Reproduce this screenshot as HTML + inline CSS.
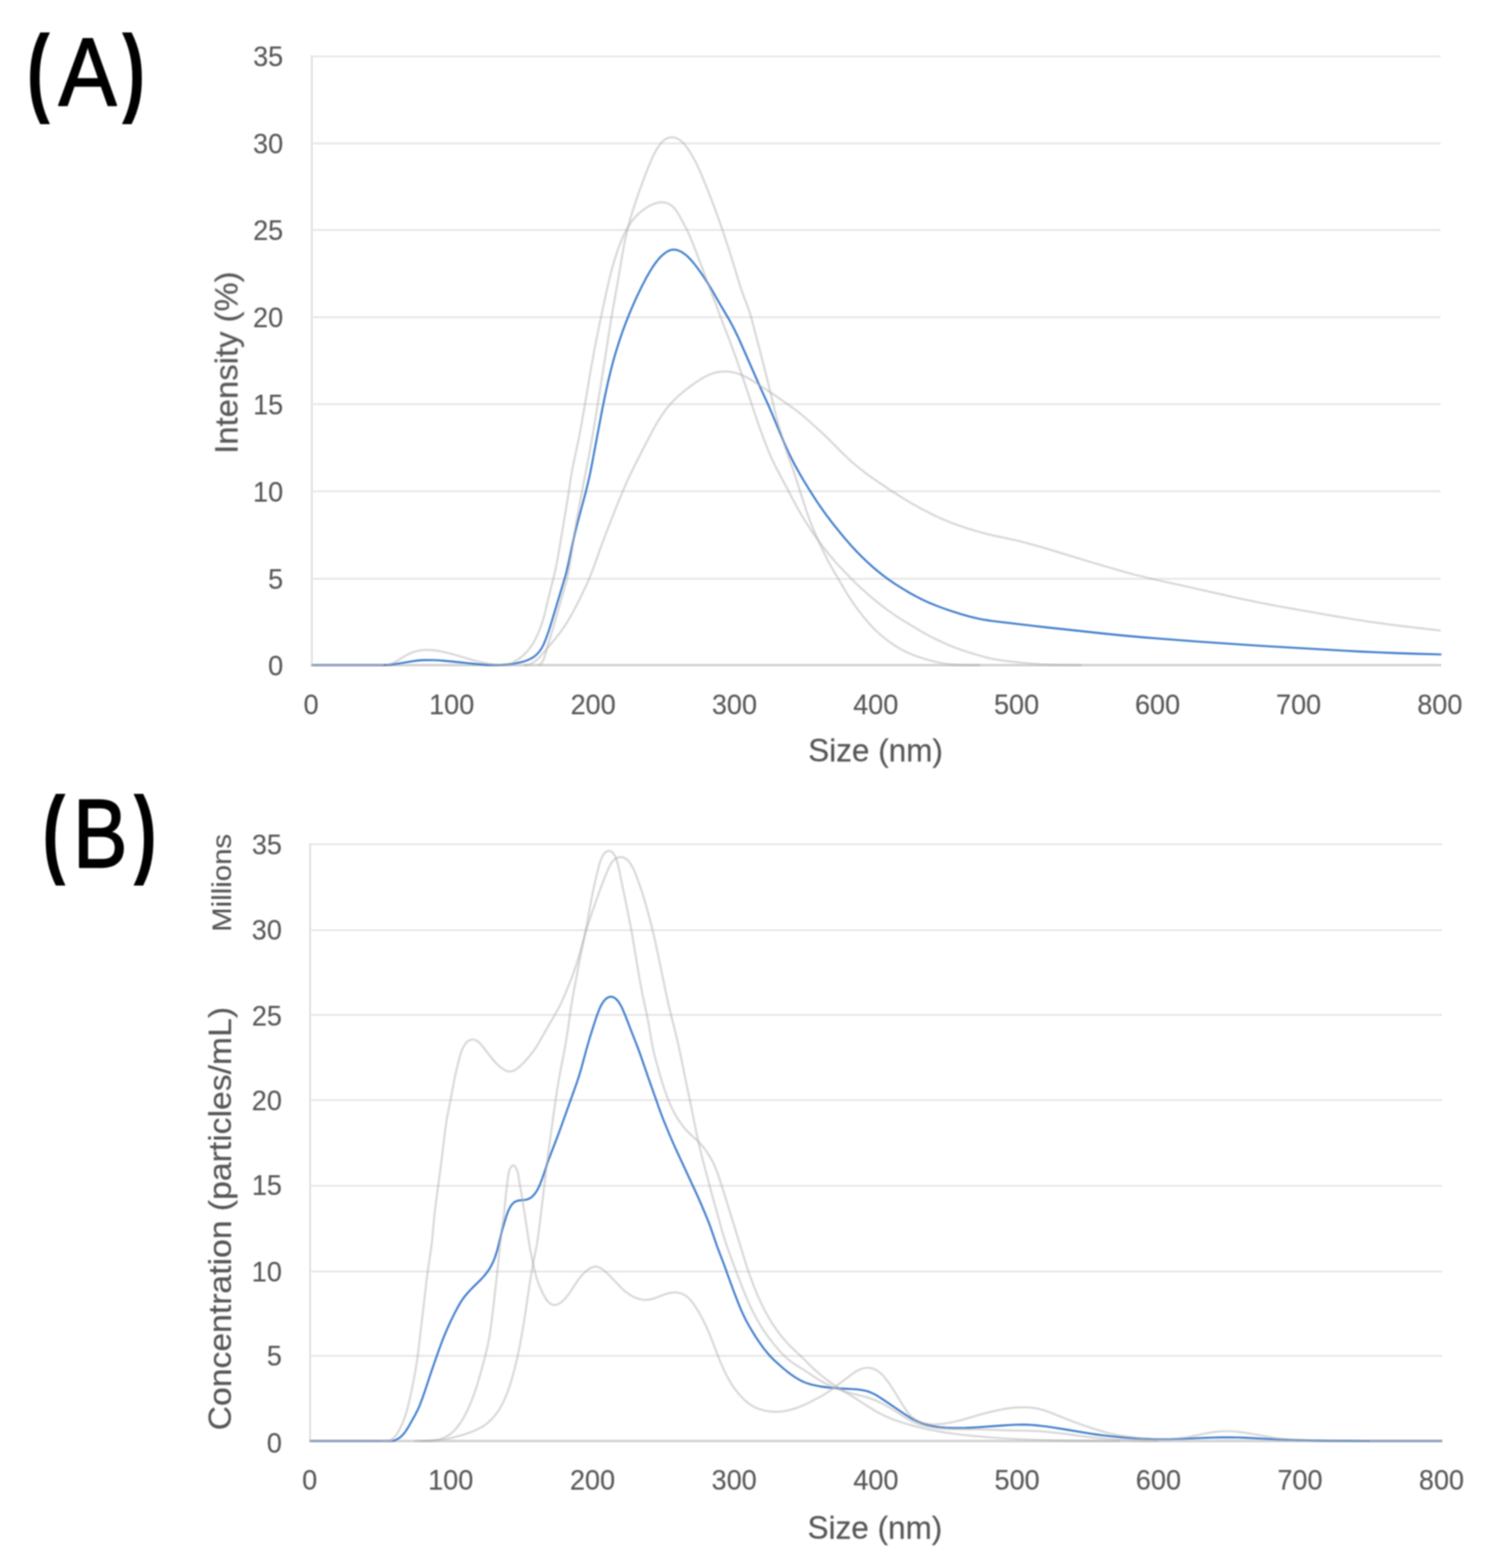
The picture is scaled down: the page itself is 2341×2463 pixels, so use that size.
<!DOCTYPE html>
<html lang="en"><head><meta charset="utf-8"><title>Particle size distributions</title>
<style>html,body{margin:0;padding:0;background:#fff;}body{width:2341px;height:2463px;overflow:hidden;}svg{display:block;}text{font-family:"Liberation Sans",Arial,sans-serif;}</style></head><body>
<svg xmlns="http://www.w3.org/2000/svg" width="2341" height="2463" viewBox="0 0 2341 2463">
<rect width="2341" height="2463" fill="#fff"/>
<g id="grid">
<g stroke="#eeeeee" stroke-width="3.9" fill="none">
<line x1="490.0" y1="909.30" x2="2263.4" y2="909.30"/>
<line x1="490.0" y1="771.80" x2="2263.4" y2="771.80"/>
<line x1="490.0" y1="634.70" x2="2263.4" y2="634.70"/>
<line x1="490.0" y1="498.30" x2="2263.4" y2="498.30"/>
<line x1="490.0" y1="361.30" x2="2263.4" y2="361.30"/>
<line x1="490.0" y1="225.20" x2="2263.4" y2="225.20"/>
<line x1="490.0" y1="88.60" x2="2263.4" y2="88.60"/>
</g>
<line x1="490.0" y1="86.65" x2="490.0" y2="1046.30" stroke="#e8e8ea" stroke-width="3.8"/>
<line x1="488.1" y1="1044.80" x2="2264.2" y2="1044.80" stroke="#dadada" stroke-width="4.4"/>
<g stroke="#eeeeee" stroke-width="3.9" fill="none">
<line x1="487.2" y1="2129.80" x2="2265.5" y2="2129.80"/>
<line x1="487.2" y1="1997.30" x2="2265.5" y2="1997.30"/>
<line x1="487.2" y1="1862.60" x2="2265.5" y2="1862.60"/>
<line x1="487.2" y1="1728.00" x2="2265.5" y2="1728.00"/>
<line x1="487.2" y1="1594.30" x2="2265.5" y2="1594.30"/>
<line x1="487.2" y1="1461.10" x2="2265.5" y2="1461.10"/>
<line x1="487.2" y1="1326.20" x2="2265.5" y2="1326.20"/>
</g>
<line x1="487.2" y1="1324.25" x2="487.2" y2="2265.00" stroke="#e8e8ea" stroke-width="3.8"/>
<line x1="485.3" y1="2263.50" x2="2266.3" y2="2263.50" stroke="#dadada" stroke-width="4.4"/>
</g>
<g id="figure" filter="url(#soft)">
<g id="chartA">
<path d="M490.0,1044.8 L604.0,1044.8" fill="none" stroke="#8fa3c4" stroke-width="3.6"/>
<path d="M604.5,1044.7 L612.0,1044.2 L619.4,1043.3 L626.8,1042.2 L644.6,1039.2 L653.5,1037.9 L658.0,1037.4 L662.4,1037.1 L666.9,1036.9 L672.9,1036.8 L683.4,1037.0 L689.4,1037.3 L696.9,1037.9 L710.3,1039.1 L746.1,1042.9 L756.6,1043.8 L765.6,1044.4 L773.1,1044.7 L780.6,1044.8 L788.1,1044.5 L795.5,1043.9 L806.0,1042.7 L810.5,1042.0 L814.9,1041.1 L819.3,1040.1 L822.2,1039.3 L826.5,1037.9 L829.3,1036.8 L833.3,1034.9 L836.0,1033.5 L838.5,1031.9 L840.8,1030.1 L843.1,1028.1 L845.1,1026.0 L847.1,1023.8 L848.8,1021.4 L850.5,1018.9 L852.0,1016.3 L853.4,1013.6 L855.3,1009.5 L858.6,1001.1 L862.1,991.2 L864.9,982.6 L868.8,969.7 L886.9,909.4 L888.6,903.6 L890.1,897.8 L892.8,886.2 L898.9,856.8 L903.3,837.8 L908.4,817.4 L916.9,785.6 L920.4,772.5 L923.6,759.4 L926.3,747.7 L928.4,737.4 L930.4,727.1 L940.9,671.1 L946.2,643.1 L951.0,619.6 L955.5,599.1 L959.7,581.6 L963.9,565.6 L968.1,551.2 L973.1,535.5 L977.9,521.3 L983.7,505.8 L989.2,491.9 L995.1,478.1 L1001.3,464.4 L1008.5,449.6 L1014.7,437.6 L1020.6,427.2 L1025.4,419.5 L1028.0,415.7 L1030.7,412.0 L1033.5,408.4 L1035.5,406.1 L1037.6,403.8 L1039.8,401.6 L1042.1,399.6 L1044.5,397.7 L1046.9,396.0 L1049.5,394.5 L1052.2,393.3 L1053.5,392.8 L1056.3,392.2 L1057.7,392.1 L1060.5,392.2 L1061.9,392.4 L1064.8,393.1 L1066.2,393.6 L1068.9,394.8 L1070.2,395.4 L1072.8,397.0 L1076.5,399.7 L1078.9,401.6 L1081.2,403.7 L1085.4,408.1 L1090.4,413.9 L1095.9,421.1 L1101.2,428.4 L1106.3,435.8 L1111.9,444.6 L1118.2,454.9 L1132.3,479.6 L1145.3,501.6 L1149.6,509.4 L1154.4,518.8 L1159.0,528.2 L1164.6,540.5 L1194.2,607.8 L1208.4,639.2 L1214.9,654.3 L1225.8,680.7 L1230.4,691.7 L1235.9,704.1 L1241.7,716.3 L1246.4,725.7 L1251.3,734.9 L1256.4,744.1 L1262.5,754.5 L1269.5,766.0 L1277.5,778.7 L1284.9,790.0 L1291.7,799.9 L1299.6,810.8 L1308.7,822.7 L1320.0,836.8 L1329.6,848.3 L1337.5,857.3 L1345.7,866.1 L1354.1,874.6 L1362.7,882.9 L1371.7,891.0 L1379.7,897.8 L1387.9,904.3 L1396.4,910.4 L1406.3,917.2 L1419.0,925.2 L1429.3,931.4 L1439.8,937.2 L1449.2,941.9 L1458.7,946.3 L1469.8,950.9 L1481.0,955.1 L1495.2,960.0 L1509.5,964.5 L1522.5,968.2 L1532.7,970.8 L1538.6,972.1 L1544.4,973.2 L1551.8,974.4 L1559.3,975.5 L1624.8,983.2 L1645.7,985.6 L1733.6,995.1 L1753.0,997.1 L1773.9,999.1 L1796.3,1001.1 L1823.2,1003.2 L1881.6,1007.7 L1914.5,1010.0 L1969.8,1013.7 L2002.8,1015.8 L2115.1,1022.2 L2140.5,1023.6 L2166.0,1024.8 L2192.9,1025.9 L2222.9,1026.9 L2263.4,1028.0" fill="none" stroke="#3c7acb" stroke-width="3.1" stroke-linejoin="round" stroke-linecap="round"/>
<path d="M845.6,1044.6 L846.8,1044.2 L848.1,1043.7 L849.2,1043.0 L850.1,1042.2 L851.0,1041.2 L851.8,1040.1 L853.2,1037.7 L854.4,1035.0 L855.4,1032.1 L856.8,1027.6 L861.0,1012.7 L866.3,995.4 L868.9,986.8 L877.4,956.5 L887.0,923.3 L889.0,916.1 L890.9,908.8 L892.3,903.0 L893.5,897.2 L895.2,888.3 L896.7,879.5 L898.2,869.1 L902.1,840.8 L903.5,831.9 L905.2,821.6 L907.9,806.8 L918.5,750.8 L926.2,711.0 L928.9,696.3 L931.7,680.0 L935.4,657.8 L946.1,591.2 L950.4,564.5 L957.7,517.1 L962.1,490.5 L971.3,438.8 L977.2,403.2 L979.6,389.9 L981.2,381.1 L983.1,372.3 L984.7,365.0 L986.5,357.7 L990.0,344.7 L993.9,331.7 L999.0,316.0 L1004.9,299.0 L1011.0,282.1 L1016.9,266.7 L1022.7,252.8 L1025.2,247.2 L1027.1,243.1 L1030.7,236.4 L1033.0,232.4 L1034.7,229.9 L1036.5,227.4 L1038.4,225.0 L1040.4,222.8 L1041.5,221.7 L1043.7,219.8 L1044.9,219.0 L1047.5,217.5 L1048.8,216.9 L1051.6,216.1 L1053.1,215.8 L1054.5,215.6 L1056.0,215.6 L1057.4,215.7 L1058.9,215.9 L1060.3,216.2 L1063.1,217.2 L1064.5,217.8 L1067.1,219.3 L1068.4,220.2 L1070.8,222.0 L1074.0,225.2 L1076.0,227.5 L1077.9,229.8 L1081.5,234.8 L1085.6,241.1 L1089.3,247.7 L1092.9,254.3 L1096.1,261.1 L1099.9,269.3 L1104.5,280.3 L1111.9,298.4 L1116.8,311.0 L1121.6,323.6 L1126.3,336.3 L1131.3,350.4 L1136.7,366.0 L1141.4,380.2 L1148.3,401.6 L1160.6,441.8 L1165.2,456.1 L1169.2,467.4 L1175.7,484.2 L1177.1,488.4 L1178.9,494.1 L1181.0,501.3 L1185.8,520.2 L1192.8,546.3 L1198.8,569.6 L1206.5,600.1 L1216.3,640.9 L1220.3,656.9 L1223.1,667.1 L1226.9,680.0 L1231.6,695.8 L1235.2,707.3 L1238.6,717.2 L1245.7,737.0 L1249.1,746.9 L1253.3,759.7 L1261.9,786.9 L1266.6,801.2 L1270.6,812.5 L1274.8,823.7 L1278.2,832.0 L1282.3,841.7 L1286.6,851.3 L1292.3,863.5 L1296.2,871.6 L1300.2,879.7 L1304.5,887.6 L1308.2,894.1 L1318.1,910.9 L1328.7,929.0 L1331.8,934.2 L1335.0,939.2 L1340.1,946.7 L1346.2,955.2 L1352.5,963.6 L1358.1,970.7 L1363.9,977.6 L1368.9,983.1 L1375.2,989.6 L1380.7,994.7 L1386.4,999.6 L1392.2,1004.3 L1398.2,1008.8 L1405.7,1013.9 L1413.4,1018.6 L1419.9,1022.2 L1426.7,1025.4 L1433.6,1028.4 L1442.0,1031.5 L1452.0,1034.8 L1460.7,1037.3 L1469.4,1039.5 L1476.7,1041.1 L1484.1,1042.4 L1491.5,1043.4 L1499.0,1044.0 L1506.5,1044.5 L1515.5,1044.7 L1539.5,1044.8" fill="none" stroke="#b0b0b0" stroke-opacity="0.5" stroke-width="3.2" stroke-linejoin="round"/>
<path d="M606.5,1044.5 L609.4,1044.0 L612.2,1043.3 L615.0,1042.4 L619.1,1040.6 L621.7,1039.3 L624.3,1037.8 L633.4,1032.2 L638.6,1029.2 L644.0,1026.5 L648.2,1024.8 L651.0,1023.8 L653.9,1023.0 L656.8,1022.3 L659.7,1021.7 L662.7,1021.3 L665.6,1021.0 L668.6,1020.8 L671.6,1020.8 L677.6,1021.1 L680.6,1021.3 L685.1,1021.9 L692.5,1023.2 L699.8,1024.8 L707.1,1026.6 L714.4,1028.5 L737.4,1035.3 L746.1,1037.7 L756.3,1040.2 L765.1,1042.1 L774.0,1043.6 L778.4,1044.1 L783.0,1044.5 L786.0,1044.7 L789.0,1044.7 L792.0,1044.6 L794.9,1044.2 L797.8,1043.6 L800.6,1042.8 L803.4,1041.7 L806.1,1040.5 L808.8,1039.1 L812.7,1036.7 L815.2,1035.0 L818.7,1032.2 L821.0,1030.3 L824.4,1027.2 L827.5,1024.0 L829.5,1021.8 L831.4,1019.4 L834.1,1015.8 L835.8,1013.4 L838.2,1009.6 L840.3,1005.6 L842.4,1001.6 L846.1,993.4 L847.8,989.2 L849.9,983.6 L851.9,977.9 L853.2,973.6 L854.9,967.9 L856.4,962.1 L862.5,935.8 L869.6,908.2 L871.3,900.9 L872.9,893.6 L874.7,884.8 L876.4,875.9 L880.2,853.8 L891.8,784.2 L893.7,772.4 L896.7,751.6 L898.4,741.3 L900.4,731.0 L907.3,698.7 L910.0,685.5 L912.8,670.7 L918.0,641.2 L928.5,579.1 L933.3,552.5 L936.7,534.9 L940.9,514.3 L947.7,482.0 L952.4,460.0 L955.7,445.4 L958.5,433.7 L961.1,423.6 L964.0,413.5 L967.5,402.0 L970.8,392.0 L974.5,382.2 L976.8,376.6 L978.6,372.5 L982.5,364.4 L986.1,357.8 L990.0,351.4 L992.6,347.7 L994.4,345.3 L997.3,341.9 L999.3,339.6 L1001.4,337.5 L1004.7,334.4 L1007.0,332.5 L1010.6,329.7 L1014.3,327.0 L1016.9,325.4 L1020.9,323.1 L1023.6,321.8 L1026.4,320.6 L1029.2,319.6 L1032.1,318.7 L1035.1,318.1 L1038.0,317.8 L1039.5,317.7 L1042.4,317.9 L1045.4,318.4 L1048.2,319.2 L1051.0,320.4 L1053.5,321.9 L1055.9,323.6 L1058.1,325.6 L1060.1,327.9 L1061.9,330.2 L1064.5,334.0 L1066.9,337.9 L1069.1,341.8 L1079.0,360.6 L1081.6,366.0 L1084.0,371.4 L1089.1,383.9 L1098.3,407.7 L1111.9,444.2 L1124.2,476.5 L1133.0,500.4 L1145.4,532.5 L1152.7,552.2 L1159.3,570.6 L1165.2,587.6 L1170.9,604.6 L1189.4,660.1 L1192.8,670.1 L1196.9,681.3 L1202.2,695.4 L1207.2,707.9 L1211.9,718.9 L1216.4,728.4 L1221.1,737.8 L1228.0,751.1 L1249.1,790.8 L1253.4,798.7 L1257.9,806.6 L1262.4,814.3 L1266.4,820.7 L1272.1,829.5 L1278.0,838.2 L1284.9,847.9 L1292.1,857.6 L1298.5,865.9 L1304.2,872.9 L1310.0,879.7 L1316.0,886.5 L1326.2,897.4 L1336.7,908.2 L1346.3,917.6 L1356.2,926.8 L1366.3,935.7 L1376.6,944.4 L1387.2,952.8 L1396.8,960.0 L1406.7,966.8 L1415.5,972.5 L1442.5,988.8 L1452.8,994.9 L1462.1,999.8 L1471.5,1004.5 L1483.7,1010.2 L1494.7,1015.0 L1503.1,1018.3 L1513.0,1021.8 L1525.8,1025.9 L1537.3,1029.3 L1547.4,1032.1 L1556.2,1034.2 L1565.0,1035.9 L1573.9,1037.4 L1587.3,1039.1 L1603.7,1040.9 L1621.6,1042.6 L1635.0,1043.6 L1647.0,1044.1 L1662.0,1044.5 L1678.5,1044.7 L1699.5,1044.8" fill="none" stroke="#b0b0b0" stroke-opacity="0.5" stroke-width="3.2" stroke-linejoin="round"/>
<path d="M822.6,1044.8 L825.6,1044.7 L828.5,1044.3 L830.0,1044.0 L832.8,1043.2 L835.4,1042.1 L838.0,1040.6 L841.6,1038.0 L845.0,1035.1 L848.2,1031.8 L852.2,1027.3 L868.8,1007.8 L874.5,1000.8 L879.9,993.7 L885.2,986.4 L889.3,980.1 L894.0,972.4 L899.2,963.3 L905.5,951.4 L912.9,936.6 L921.3,919.0 L924.4,912.2 L926.7,906.7 L929.5,899.7 L932.2,892.7 L945.2,856.0 L952.7,836.3 L966.9,800.0 L973.0,784.7 L980.0,768.1 L986.0,754.4 L991.1,743.5 L995.7,734.1 L1016.1,694.0 L1021.7,683.4 L1026.7,674.1 L1031.8,665.0 L1036.5,657.2 L1040.6,651.0 L1045.9,643.6 L1050.6,637.8 L1055.5,632.2 L1060.7,626.8 L1066.2,621.7 L1073.1,615.8 L1080.1,610.2 L1088.6,603.9 L1097.3,598.0 L1103.7,594.0 L1109.0,591.1 L1114.4,588.6 L1117.2,587.5 L1120.0,586.5 L1122.9,585.6 L1125.8,584.9 L1130.2,584.1 L1133.2,583.8 L1136.2,583.5 L1139.2,583.5 L1142.2,583.6 L1145.1,583.8 L1149.6,584.4 L1152.5,585.0 L1155.4,585.7 L1158.3,586.5 L1162.5,588.0 L1165.3,589.1 L1169.4,591.0 L1176.1,594.4 L1183.9,599.0 L1194.0,605.5 L1216.5,620.4 L1238.7,635.8 L1249.6,643.7 L1254.4,647.3 L1260.2,652.1 L1265.9,656.9 L1271.6,661.9 L1287.2,675.9 L1294.9,683.0 L1303.5,691.4 L1324.6,712.7 L1331.1,718.9 L1336.6,724.0 L1344.6,730.9 L1351.5,736.6 L1358.6,742.1 L1367.1,748.3 L1375.7,754.3 L1386.9,761.9 L1398.1,769.3 L1408.2,775.8 L1417.1,781.5 L1424.7,786.2 L1432.5,790.8 L1440.3,795.2 L1448.2,799.5 L1456.2,803.7 L1464.2,807.7 L1472.3,811.6 L1480.6,815.3 L1487.5,818.2 L1495.8,821.6 L1502.8,824.2 L1512.7,827.6 L1522.7,830.9 L1534.2,834.3 L1545.8,837.5 L1554.5,839.7 L1561.8,841.4 L1588.2,847.0 L1598.5,849.3 L1610.1,852.2 L1624.6,856.1 L1637.6,859.8 L1652.0,864.1 L1709.4,881.5 L1739.5,890.5 L1762.6,897.1 L1782.9,902.7 L1797.4,906.3 L1812.0,909.7 L1861.8,920.7 L1920.3,933.9 L1943.7,939.2 L1959.8,942.6 L1976.0,946.0 L1990.7,948.9 L2005.4,951.7 L2021.7,954.6 L2058.6,961.0 L2092.6,967.1 L2122.1,972.0 L2153.3,976.8 L2184.5,981.1 L2217.2,985.2 L2263.4,990.5" fill="none" stroke="#b0b0b0" stroke-opacity="0.5" stroke-width="3.2" stroke-linejoin="round"/>
</g>
<g id="chartB">
<path d="M487.2,2263.5 L618.0,2263.5 M2150.0,2263.5 L2265.5,2263.5" fill="none" stroke="#8fa3c4" stroke-width="3.6"/>
<path d="M618.4,2263.0 L619.8,2262.6 L622.5,2261.6 L625.1,2260.2 L627.5,2258.6 L629.8,2256.8 L632.0,2254.7 L634.0,2252.5 L635.9,2250.2 L637.7,2247.7 L639.3,2245.2 L642.5,2240.0 L652.1,2222.7 L656.2,2214.7 L658.1,2210.6 L659.8,2206.5 L663.5,2196.7 L667.4,2185.4 L677.4,2155.5 L682.7,2139.9 L690.2,2118.7 L696.0,2103.2 L701.1,2090.8 L706.6,2078.4 L713.2,2064.9 L717.3,2056.9 L720.2,2051.6 L723.2,2046.5 L725.6,2042.7 L728.2,2039.0 L730.9,2035.4 L734.7,2030.9 L738.8,2026.5 L743.0,2022.2 L754.8,2010.6 L757.9,2007.3 L760.9,2004.0 L764.6,1999.3 L767.3,1995.6 L769.7,1991.9 L772.6,1986.6 L774.5,1982.6 L776.3,1978.5 L777.9,1974.3 L779.8,1968.6 L781.1,1964.3 L782.6,1958.5 L786.5,1942.4 L788.3,1935.2 L790.7,1926.5 L793.7,1916.2 L795.5,1910.4 L797.6,1904.6 L799.3,1900.4 L801.4,1896.3 L803.0,1893.8 L803.8,1892.6 L805.7,1890.4 L807.8,1888.6 L809.0,1887.8 L810.3,1887.2 L812.9,1886.2 L815.8,1885.6 L824.7,1884.8 L827.6,1884.3 L830.3,1883.3 L831.6,1882.7 L834.1,1881.3 L835.2,1880.4 L837.4,1878.5 L838.4,1877.4 L840.3,1875.1 L842.8,1871.4 L844.4,1868.8 L845.8,1866.1 L847.1,1863.3 L848.9,1859.1 L851.6,1852.0 L854.1,1844.9 L859.8,1827.8 L862.3,1820.7 L866.0,1810.9 L875.2,1787.1 L878.9,1777.3 L902.6,1711.0 L907.1,1698.2 L910.3,1688.3 L912.9,1679.7 L921.5,1647.8 L926.9,1629.1 L930.5,1617.7 L935.1,1603.4 L937.5,1596.2 L939.6,1590.5 L941.9,1584.7 L943.1,1581.9 L944.5,1579.1 L946.9,1575.1 L948.7,1572.6 L949.6,1571.4 L951.7,1569.3 L952.8,1568.4 L954.0,1567.6 L955.2,1566.9 L956.4,1566.3 L957.6,1565.9 L958.9,1565.7 L960.2,1565.6 L961.5,1565.8 L962.7,1566.1 L964.0,1566.6 L965.2,1567.2 L967.5,1568.9 L968.6,1569.9 L970.6,1572.1 L971.5,1573.3 L973.3,1575.8 L975.6,1579.9 L977.7,1584.1 L980.7,1591.1 L983.6,1598.2 L991.7,1619.2 L999.4,1638.7 L1002.6,1647.1 L1006.7,1658.4 L1017.9,1691.0 L1035.4,1740.4 L1039.5,1751.7 L1043.3,1761.5 L1050.7,1779.5 L1057.8,1796.0 L1063.4,1808.3 L1095.5,1877.7 L1102.2,1892.8 L1109.1,1909.4 L1112.5,1917.7 L1115.7,1926.1 L1127.0,1958.7 L1137.7,1986.7 L1147.3,2013.5 L1152.0,2026.2 L1157.9,2041.6 L1162.9,2054.1 L1166.5,2062.4 L1169.7,2069.2 L1173.1,2075.8 L1177.5,2083.7 L1182.8,2092.7 L1187.6,2100.3 L1192.6,2107.8 L1197.8,2115.2 L1202.3,2121.1 L1207.1,2126.9 L1211.1,2131.4 L1216.4,2136.7 L1224.1,2143.7 L1230.9,2149.6 L1236.8,2154.4 L1242.8,2158.9 L1249.0,2163.2 L1254.1,2166.3 L1258.0,2168.5 L1262.0,2170.4 L1264.8,2171.6 L1269.0,2173.1 L1273.3,2174.4 L1277.7,2175.5 L1282.1,2176.5 L1286.5,2177.3 L1290.9,2178.1 L1296.9,2178.9 L1302.8,2179.6 L1310.3,2180.3 L1322.3,2181.1 L1340.3,2182.0 L1344.8,2182.3 L1349.3,2182.7 L1353.7,2183.4 L1358.1,2184.2 L1362.5,2185.3 L1365.3,2186.3 L1368.1,2187.3 L1372.1,2189.2 L1376.1,2191.2 L1380.0,2193.5 L1386.3,2197.6 L1408.6,2212.8 L1422.3,2222.0 L1430.0,2226.8 L1436.6,2230.3 L1442.0,2232.9 L1446.1,2234.6 L1450.3,2236.2 L1456.1,2237.9 L1460.4,2239.1 L1466.3,2240.3 L1470.7,2241.0 L1476.7,2241.8 L1485.6,2242.5 L1494.6,2242.9 L1506.7,2243.0 L1517.1,2242.9 L1524.6,2242.6 L1535.1,2242.0 L1575.5,2239.1 L1589.0,2238.3 L1596.4,2238.0 L1602.4,2237.8 L1612.9,2237.9 L1620.4,2238.3 L1627.9,2238.9 L1635.4,2239.7 L1644.3,2240.8 L1654.7,2242.3 L1675.4,2245.6 L1712.4,2251.8 L1721.3,2253.1 L1731.7,2254.5 L1748.0,2256.3 L1764.5,2257.9 L1779.4,2259.1 L1794.4,2260.0 L1804.9,2260.4 L1816.9,2260.7 L1827.3,2260.7 L1837.8,2260.7 L1854.3,2260.2 L1888.8,2258.7 L1903.8,2258.2 L1918.7,2257.9 L1933.7,2257.8 L1944.2,2258.0 L1954.7,2258.4 L2005.6,2261.0 L2025.1,2261.7 L2043.1,2262.3 L2065.6,2262.8 L2092.5,2263.2 L2121.0,2263.4 L2149.5,2263.5" fill="none" stroke="#3c7acb" stroke-width="3.1" stroke-linejoin="round" stroke-linecap="round"/>
<path d="M600.7,2263.5 L606.8,2263.4 L609.7,2263.0 L612.5,2262.3 L613.8,2261.8 L615.0,2261.2 L616.2,2260.4 L618.4,2258.7 L619.4,2257.7 L621.4,2255.5 L624.0,2251.7 L627.1,2246.4 L629.9,2240.9 L633.0,2233.9 L635.8,2226.8 L638.2,2219.6 L640.2,2212.4 L642.4,2203.7 L645.0,2192.0 L648.1,2177.3 L650.7,2164.1 L653.1,2150.8 L655.2,2137.5 L657.0,2124.1 L665.6,2051.1 L670.6,2008.0 L673.0,1990.1 L677.2,1961.9 L678.4,1953.0 L679.6,1941.1 L682.0,1914.2 L683.8,1897.8 L691.7,1838.4 L694.5,1816.1 L698.6,1781.8 L700.8,1765.5 L702.2,1756.6 L703.8,1747.7 L708.3,1725.7 L713.2,1699.2 L715.6,1687.5 L718.3,1675.8 L722.1,1661.0 L723.9,1655.0 L724.8,1652.0 L725.9,1649.1 L727.2,1646.3 L728.6,1643.6 L730.2,1641.0 L731.1,1639.8 L733.0,1637.5 L734.0,1636.5 L736.3,1634.8 L737.5,1634.2 L738.7,1633.6 L740.0,1633.2 L741.3,1633.0 L742.7,1632.9 L744.0,1633.0 L745.3,1633.2 L746.6,1633.6 L747.8,1634.2 L749.1,1634.9 L751.4,1636.5 L753.6,1638.5 L755.7,1640.7 L758.7,1644.3 L767.3,1655.5 L772.1,1661.6 L777.1,1667.4 L780.3,1670.8 L782.5,1673.0 L784.8,1675.1 L787.2,1677.0 L789.7,1678.8 L792.2,1680.4 L794.8,1681.7 L796.2,1682.2 L797.5,1682.6 L798.8,1682.9 L800.2,1683.1 L801.5,1683.0 L802.8,1682.9 L804.2,1682.6 L806.8,1681.7 L808.1,1681.1 L810.7,1679.6 L814.5,1677.0 L818.0,1674.0 L822.5,1669.6 L827.7,1663.9 L832.7,1658.1 L836.4,1653.4 L839.9,1648.5 L843.2,1643.5 L846.3,1638.4 L860.3,1613.6 L874.0,1590.3 L878.9,1581.1 L883.4,1571.6 L888.2,1560.6 L895.0,1543.9 L899.4,1532.8 L902.9,1522.9 L905.8,1514.4 L908.9,1504.3 L911.8,1494.2 L919.4,1466.8 L922.0,1458.2 L924.7,1449.6 L930.5,1432.6 L940.3,1404.3 L946.0,1388.8 L951.0,1376.1 L954.6,1367.5 L957.2,1361.7 L959.4,1357.6 L961.0,1355.0 L961.9,1353.8 L963.8,1351.6 L964.9,1350.6 L967.1,1348.8 L968.3,1348.1 L969.5,1347.4 L970.8,1346.9 L972.2,1346.6 L973.6,1346.3 L975.0,1346.3 L976.4,1346.4 L977.8,1346.6 L979.2,1347.0 L980.5,1347.5 L983.1,1348.9 L985.5,1350.7 L987.6,1352.7 L988.5,1353.9 L990.3,1356.3 L992.7,1360.2 L994.9,1364.3 L997.4,1369.8 L999.7,1375.5 L1003.3,1385.5 L1006.8,1395.4 L1009.6,1404.0 L1012.2,1412.5 L1015.1,1422.6 L1018.3,1434.2 L1021.4,1445.8 L1024.4,1457.4 L1027.2,1469.1 L1029.8,1480.7 L1035.8,1508.6 L1046.1,1558.5 L1049.9,1576.1 L1054.5,1595.0 L1062.9,1628.5 L1066.6,1644.6 L1069.7,1659.2 L1077.1,1696.0 L1084.2,1729.7 L1092.8,1772.3 L1096.2,1788.5 L1099.5,1803.1 L1102.3,1814.7 L1104.9,1824.9 L1120.4,1882.8 L1127.7,1908.8 L1132.8,1927.6 L1135.3,1936.3 L1138.0,1944.9 L1142.2,1957.7 L1147.2,1971.8 L1151.8,1984.5 L1157.1,1998.5 L1167.4,2025.1 L1171.9,2036.2 L1176.6,2047.2 L1181.1,2056.7 L1185.9,2066.0 L1191.0,2075.2 L1196.3,2084.3 L1201.2,2091.8 L1206.4,2099.2 L1212.7,2107.5 L1219.4,2115.7 L1226.3,2123.6 L1231.5,2129.0 L1235.8,2133.1 L1240.4,2137.0 L1245.2,2140.5 L1250.2,2143.8 L1261.6,2151.0 L1277.9,2161.8 L1284.2,2165.9 L1291.9,2170.5 L1299.8,2174.8 L1306.5,2178.0 L1312.0,2180.4 L1317.6,2182.6 L1323.3,2184.6 L1327.6,2186.0 L1333.3,2187.6 L1352.3,2192.2 L1359.5,2194.1 L1363.8,2195.4 L1368.1,2196.9 L1372.3,2198.4 L1376.4,2200.1 L1380.6,2202.0 L1386.0,2204.6 L1389.9,2206.6 L1395.2,2209.6 L1404.2,2215.0 L1421.9,2226.3 L1427.0,2229.4 L1431.0,2231.5 L1435.0,2233.5 L1437.7,2234.7 L1443.3,2237.0 L1449.0,2238.8 L1454.8,2240.3 L1462.1,2241.8 L1471.0,2243.1 L1481.5,2244.1 L1492.0,2244.7 L1505.5,2245.1 L1531.0,2245.1 L1544.5,2245.3 L1586.4,2246.8 L1617.9,2247.5 L1632.9,2248.2 L1644.8,2249.1 L1656.8,2250.3 L1668.7,2251.7 L1693.9,2255.2 L1705.8,2256.7 L1720.7,2258.3 L1737.2,2259.8 L1758.1,2261.3 L1779.0,2262.5 L1800.0,2263.2 L1819.5,2263.5" fill="none" stroke="#b0b0b0" stroke-opacity="0.5" stroke-width="3.2" stroke-linejoin="round"/>
<path d="M650.5,2263.5 L668.5,2263.5 L671.5,2263.4 L679.0,2262.8 L683.5,2262.2 L686.4,2261.7 L689.4,2261.1 L692.3,2260.3 L695.1,2259.3 L697.9,2258.2 L700.6,2256.9 L703.2,2255.4 L705.7,2253.8 L708.2,2252.0 L710.5,2250.1 L712.7,2248.1 L714.8,2245.9 L717.8,2242.5 L719.6,2240.2 L722.3,2236.5 L724.8,2232.8 L727.2,2228.9 L729.4,2225.0 L731.5,2221.1 L733.5,2217.0 L736.1,2211.6 L738.5,2206.1 L740.8,2200.6 L745.0,2189.3 L748.4,2179.4 L751.5,2169.4 L754.4,2159.3 L761.9,2131.8 L763.7,2124.5 L765.7,2115.8 L767.5,2106.9 L769.1,2098.1 L770.5,2089.2 L772.0,2078.8 L775.1,2053.5 L781.6,1995.4 L787.2,1940.2 L788.3,1931.3 L790.9,1913.5 L791.9,1906.0 L792.7,1898.6 L795.0,1874.7 L798.8,1844.6 L799.7,1840.0 L800.6,1837.1 L801.2,1835.7 L801.9,1834.4 L802.7,1833.2 L803.7,1832.0 L804.7,1831.2 L805.8,1830.7 L806.8,1830.7 L807.9,1831.2 L808.9,1832.1 L809.8,1833.3 L810.7,1834.6 L812.1,1837.5 L813.2,1840.4 L813.9,1843.4 L814.5,1846.4 L816.3,1858.4 L818.9,1873.1 L820.4,1882.0 L827.1,1924.9 L830.7,1948.7 L832.1,1957.5 L834.0,1967.8 L836.7,1981.1 L839.0,1991.3 L841.1,2000.1 L843.1,2007.3 L845.0,2013.0 L847.6,2020.0 L850.0,2025.5 L853.3,2032.3 L857.0,2039.0 L859.5,2042.8 L861.5,2045.0 L862.5,2046.1 L863.7,2047.0 L864.9,2047.9 L866.3,2048.6 L867.7,2049.2 L869.1,2049.6 L870.5,2049.8 L872.0,2049.8 L873.4,2049.7 L874.8,2049.3 L876.2,2048.8 L878.9,2047.4 L881.5,2045.7 L883.8,2043.7 L886.1,2041.6 L889.2,2038.3 L892.1,2034.8 L894.8,2031.1 L897.3,2027.4 L905.4,2014.9 L908.7,2010.0 L912.3,2005.2 L915.3,2001.8 L917.5,1999.6 L919.8,1997.4 L922.3,1995.4 L924.9,1993.5 L927.6,1991.9 L930.4,1990.7 L933.2,1989.9 L934.7,1989.7 L936.1,1989.6 L937.5,1989.7 L938.8,1990.0 L940.2,1990.4 L942.9,1991.5 L944.2,1992.3 L946.8,1994.0 L950.5,1996.9 L956.2,2002.2 L961.5,2007.6 L973.8,2020.6 L978.1,2024.8 L981.4,2027.8 L983.8,2029.7 L986.2,2031.5 L988.7,2033.2 L991.2,2034.8 L993.9,2036.2 L996.6,2037.6 L999.4,2038.7 L1002.2,2039.8 L1005.1,2040.6 L1008.1,2041.2 L1011.1,2041.6 L1012.5,2041.7 L1014.0,2041.8 L1017.0,2041.7 L1021.5,2041.1 L1025.9,2040.1 L1030.2,2038.7 L1034.5,2037.1 L1042.9,2033.8 L1048.6,2031.9 L1053.0,2030.8 L1057.4,2030.2 L1060.4,2030.0 L1061.9,2030.1 L1064.9,2030.4 L1066.4,2030.7 L1069.3,2031.5 L1070.8,2031.9 L1073.6,2033.1 L1076.2,2034.6 L1077.5,2035.4 L1079.9,2037.2 L1083.2,2040.3 L1086.2,2043.7 L1089.8,2048.5 L1094.0,2054.8 L1097.9,2061.2 L1101.6,2067.7 L1104.4,2073.0 L1107.7,2079.7 L1110.9,2086.5 L1113.9,2093.4 L1118.4,2104.5 L1129.1,2132.6 L1132.5,2140.9 L1136.1,2149.1 L1139.9,2157.3 L1143.4,2163.9 L1147.1,2170.4 L1151.1,2176.8 L1153.7,2180.5 L1156.3,2184.1 L1161.1,2189.9 L1164.1,2193.3 L1167.2,2196.6 L1170.4,2199.7 L1172.7,2201.7 L1175.0,2203.6 L1177.4,2205.4 L1179.9,2207.0 L1182.5,2208.6 L1185.1,2210.0 L1187.9,2211.2 L1190.7,2212.4 L1194.9,2213.9 L1199.3,2215.2 L1202.2,2215.9 L1206.6,2216.7 L1209.6,2217.1 L1214.1,2217.6 L1217.1,2217.7 L1220.1,2217.7 L1224.6,2217.5 L1227.6,2217.2 L1232.0,2216.6 L1235.0,2216.0 L1239.4,2215.1 L1243.8,2213.9 L1248.1,2212.6 L1252.4,2211.2 L1256.6,2209.6 L1260.7,2207.9 L1266.2,2205.5 L1271.7,2202.9 L1277.0,2200.2 L1288.9,2193.8 L1294.1,2190.8 L1299.2,2187.7 L1304.2,2184.4 L1310.4,2180.1 L1316.3,2175.5 L1329.4,2165.4 L1336.6,2160.0 L1342.8,2155.7 L1346.6,2153.3 L1350.6,2151.3 L1353.4,2150.2 L1354.9,2149.7 L1357.8,2149.0 L1359.3,2148.7 L1362.3,2148.5 L1363.8,2148.5 L1366.7,2148.7 L1369.7,2149.3 L1372.5,2150.3 L1373.9,2150.8 L1376.6,2152.2 L1379.2,2153.7 L1382.8,2156.4 L1385.1,2158.5 L1388.2,2161.7 L1390.2,2164.0 L1393.0,2167.5 L1395.7,2171.2 L1399.1,2176.1 L1406.4,2187.5 L1418.1,2206.7 L1423.1,2214.2 L1425.7,2217.9 L1427.5,2220.3 L1429.5,2222.6 L1431.6,2224.7 L1433.8,2226.7 L1436.2,2228.6 L1438.7,2230.2 L1442.6,2232.3 L1445.4,2233.5 L1449.7,2235.0 L1452.6,2235.7 L1457.0,2236.5 L1460.0,2236.9 L1464.5,2237.2 L1467.5,2237.3 L1472.0,2237.2 L1479.5,2236.7 L1484.0,2236.1 L1488.4,2235.5 L1497.3,2233.8 L1507.5,2231.4 L1517.6,2228.6 L1536.3,2223.0 L1544.9,2220.6 L1558.1,2217.4 L1572.7,2214.2 L1578.6,2213.1 L1583.0,2212.4 L1589.0,2211.6 L1593.5,2211.2 L1599.5,2210.8 L1604.0,2210.6 L1608.5,2210.6 L1613.0,2210.7 L1620.5,2211.2 L1625.0,2211.8 L1627.9,2212.2 L1633.8,2213.4 L1636.7,2214.2 L1641.0,2215.4 L1645.3,2216.9 L1650.9,2218.9 L1680.1,2230.8 L1687.1,2233.5 L1694.2,2236.1 L1705.5,2240.0 L1718.3,2244.2 L1726.9,2246.9 L1735.5,2249.4 L1741.3,2251.0 L1747.2,2252.3 L1753.0,2253.6 L1760.4,2255.0 L1766.3,2256.0 L1773.8,2257.0 L1787.2,2258.5 L1803.6,2259.9 L1811.1,2260.4 L1818.6,2260.7 L1826.1,2260.8 L1832.1,2260.7 L1838.1,2260.5 L1844.1,2260.1 L1848.5,2259.7 L1854.5,2259.0 L1864.9,2257.5 L1873.7,2255.9 L1895.8,2251.3 L1901.7,2250.3 L1906.1,2249.6 L1912.1,2248.9 L1918.1,2248.3 L1924.1,2248.0 L1928.6,2248.0 L1933.1,2248.1 L1939.1,2248.5 L1945.0,2249.1 L1951.0,2249.8 L1958.4,2250.9 L1965.8,2252.1 L1992.4,2256.9 L2002.7,2258.6 L2008.7,2259.4 L2014.6,2260.1 L2026.6,2261.1 L2035.6,2261.6 L2046.1,2262.1 L2058.1,2262.5 L2070.0,2262.8 L2107.5,2263.3 L2149.5,2263.5" fill="none" stroke="#b0b0b0" stroke-opacity="0.5" stroke-width="3.2" stroke-linejoin="round"/>
<path d="M660.5,2263.5 L668.0,2263.4 L675.5,2263.2 L681.5,2262.9 L687.5,2262.4 L693.4,2261.7 L697.9,2261.0 L703.8,2259.9 L709.6,2258.6 L716.9,2256.7 L725.6,2254.3 L732.8,2252.1 L738.4,2250.1 L744.0,2247.9 L749.5,2245.5 L754.9,2242.7 L758.7,2240.5 L762.5,2237.9 L766.0,2235.2 L769.4,2232.2 L772.6,2229.1 L775.6,2225.7 L778.5,2222.3 L781.2,2218.6 L783.7,2214.9 L786.1,2211.1 L788.3,2207.1 L790.3,2203.1 L792.9,2197.7 L795.2,2192.1 L797.4,2186.5 L799.4,2180.9 L801.8,2173.7 L804.0,2166.6 L806.0,2159.4 L808.4,2150.7 L810.2,2143.4 L813.6,2128.8 L816.9,2112.6 L820.1,2094.9 L823.3,2075.7 L826.3,2056.4 L832.0,2017.8 L834.6,2001.5 L837.5,1985.3 L842.2,1961.8 L844.0,1951.4 L846.0,1938.1 L848.1,1921.7 L859.3,1827.9 L861.3,1811.5 L863.7,1793.7 L872.7,1729.8 L875.6,1710.5 L878.4,1694.2 L880.5,1682.4 L886.2,1653.0 L889.4,1635.3 L891.5,1621.9 L896.8,1584.8 L898.7,1573.0 L900.7,1561.1 L905.8,1534.6 L912.1,1500.7 L918.9,1468.4 L920.9,1458.1 L927.6,1421.2 L930.4,1406.5 L932.5,1396.2 L934.4,1387.5 L940.1,1363.7 L941.7,1357.5 L943.7,1351.5 L945.5,1347.2 L946.9,1344.4 L947.6,1343.1 L949.3,1340.8 L950.3,1339.7 L951.3,1338.8 L952.3,1338.0 L953.4,1337.4 L954.6,1336.9 L955.8,1336.7 L957.1,1336.6 L958.3,1336.8 L959.5,1337.2 L960.7,1337.8 L961.7,1338.6 L962.8,1339.5 L963.7,1340.5 L965.3,1342.9 L966.7,1345.5 L968.5,1349.8 L969.9,1354.3 L971.1,1358.9 L973.1,1368.1 L977.3,1388.8 L982.5,1413.7 L991.4,1457.9 L994.0,1472.6 L1001.3,1517.0 L1005.9,1543.6 L1009.9,1564.2 L1016.2,1593.6 L1018.3,1603.9 L1020.1,1614.2 L1023.6,1634.9 L1025.6,1645.2 L1027.2,1652.5 L1029.3,1661.3 L1032.1,1671.4 L1035.3,1683.0 L1038.2,1693.1 L1040.8,1701.7 L1043.6,1710.2 L1046.1,1717.3 L1048.7,1724.4 L1051.0,1729.9 L1053.9,1736.8 L1056.5,1742.3 L1059.2,1747.6 L1062.1,1752.8 L1065.3,1758.0 L1067.7,1761.7 L1070.3,1765.4 L1073.0,1769.0 L1075.8,1772.5 L1078.8,1775.9 L1084.1,1781.2 L1094.1,1790.3 L1097.3,1793.4 L1101.4,1797.7 L1105.3,1802.3 L1109.8,1808.3 L1113.9,1814.6 L1117.7,1821.1 L1121.1,1827.7 L1123.6,1833.2 L1125.8,1838.8 L1127.9,1844.4 L1130.4,1851.5 L1134.5,1864.3 L1154.6,1928.8 L1168.2,1973.2 L1171.8,1984.7 L1175.6,1996.1 L1179.1,2006.0 L1182.7,2015.8 L1186.5,2025.6 L1191.1,2036.7 L1196.1,2047.6 L1200.8,2057.0 L1203.7,2062.3 L1206.6,2067.5 L1209.7,2072.7 L1212.8,2077.8 L1216.1,2082.8 L1219.5,2087.8 L1225.7,2096.2 L1229.4,2100.9 L1232.3,2104.4 L1237.3,2110.0 L1242.6,2115.3 L1246.9,2119.5 L1260.0,2131.8 L1273.8,2145.6 L1279.2,2150.8 L1285.9,2156.8 L1292.8,2162.6 L1299.9,2168.1 L1307.2,2173.4 L1312.2,2176.7 L1318.5,2180.8 L1346.5,2198.2 L1368.1,2211.9 L1374.5,2215.8 L1381.0,2219.5 L1386.3,2222.3 L1390.3,2224.2 L1398.6,2227.8 L1402.8,2229.5 L1408.4,2231.5 L1414.1,2233.4 L1421.2,2235.7 L1434.2,2239.4 L1448.8,2243.1 L1463.4,2246.3 L1476.7,2248.8 L1491.5,2251.1 L1509.4,2253.5 L1527.2,2255.4 L1546.7,2257.2 L1570.6,2259.0 L1588.6,2260.1 L1609.5,2261.1 L1635.0,2262.0 L1662.0,2262.7 L1690.5,2263.1 L1722.0,2263.4 L1759.5,2263.5" fill="none" stroke="#b0b0b0" stroke-opacity="0.5" stroke-width="3.2" stroke-linejoin="round"/>
</g>
<g id="labels">
<text transform="translate(421.22,1060.60) scale(0.9660,1)" font-size="44.0" fill="#575757" stroke="#575757" stroke-width="0.2" stroke-linejoin="round" >0</text>
<text transform="translate(421.35,925.10) scale(0.9660,1)" font-size="44.0" fill="#575757" stroke="#575757" stroke-width="0.2" stroke-linejoin="round" >5</text>
<text transform="translate(397.58,787.60) scale(0.9660,1)" font-size="44.0" fill="#575757" stroke="#575757" stroke-width="0.2" stroke-linejoin="round" >10</text>
<text transform="translate(397.71,650.50) scale(0.9660,1)" font-size="44.0" fill="#575757" stroke="#575757" stroke-width="0.2" stroke-linejoin="round" >15</text>
<text transform="translate(397.58,514.10) scale(0.9660,1)" font-size="44.0" fill="#575757" stroke="#575757" stroke-width="0.2" stroke-linejoin="round" >20</text>
<text transform="translate(397.71,377.10) scale(0.9660,1)" font-size="44.0" fill="#575757" stroke="#575757" stroke-width="0.2" stroke-linejoin="round" >25</text>
<text transform="translate(397.58,241.00) scale(0.9660,1)" font-size="44.0" fill="#575757" stroke="#575757" stroke-width="0.2" stroke-linejoin="round" >30</text>
<text transform="translate(397.71,104.40) scale(0.9660,1)" font-size="44.0" fill="#575757" stroke="#575757" stroke-width="0.2" stroke-linejoin="round" >35</text>
<text transform="translate(419.22,2281.80) scale(0.9660,1)" font-size="44.0" fill="#575757" stroke="#575757" stroke-width="0.2" stroke-linejoin="round" >0</text>
<text transform="translate(419.35,2145.00) scale(0.9660,1)" font-size="44.0" fill="#575757" stroke="#575757" stroke-width="0.2" stroke-linejoin="round" >5</text>
<text transform="translate(395.58,2012.50) scale(0.9660,1)" font-size="44.0" fill="#575757" stroke="#575757" stroke-width="0.2" stroke-linejoin="round" >10</text>
<text transform="translate(395.71,1877.30) scale(0.9660,1)" font-size="44.0" fill="#575757" stroke="#575757" stroke-width="0.2" stroke-linejoin="round" >15</text>
<text transform="translate(395.58,1743.90) scale(0.9660,1)" font-size="44.0" fill="#575757" stroke="#575757" stroke-width="0.2" stroke-linejoin="round" >20</text>
<text transform="translate(395.71,1611.10) scale(0.9660,1)" font-size="44.0" fill="#575757" stroke="#575757" stroke-width="0.2" stroke-linejoin="round" >25</text>
<text transform="translate(395.58,1475.80) scale(0.9660,1)" font-size="44.0" fill="#575757" stroke="#575757" stroke-width="0.2" stroke-linejoin="round" >30</text>
<text transform="translate(395.71,1342.40) scale(0.9660,1)" font-size="44.0" fill="#575757" stroke="#575757" stroke-width="0.2" stroke-linejoin="round" >35</text>
<text transform="translate(476.98,1122.00) scale(0.9660,1)" font-size="44.0" fill="#575757" stroke="#575757" stroke-width="0.2" stroke-linejoin="round" >0</text>
<text transform="translate(474.78,2340.00) scale(0.9660,1)" font-size="44.0" fill="#575757" stroke="#575757" stroke-width="0.2" stroke-linejoin="round" >0</text>
<text transform="translate(674.23,1122.00) scale(0.9660,1)" font-size="44.0" fill="#575757" stroke="#575757" stroke-width="0.2" stroke-linejoin="round" >100</text>
<text transform="translate(672.64,2340.00) scale(0.9660,1)" font-size="44.0" fill="#575757" stroke="#575757" stroke-width="0.2" stroke-linejoin="round" >100</text>
<text transform="translate(896.45,1122.00) scale(0.9660,1)" font-size="44.0" fill="#575757" stroke="#575757" stroke-width="0.2" stroke-linejoin="round" >200</text>
<text transform="translate(895.48,2340.00) scale(0.9660,1)" font-size="44.0" fill="#575757" stroke="#575757" stroke-width="0.2" stroke-linejoin="round" >200</text>
<text transform="translate(1118.39,1122.00) scale(0.9660,1)" font-size="44.0" fill="#575757" stroke="#575757" stroke-width="0.2" stroke-linejoin="round" >300</text>
<text transform="translate(1118.03,2340.00) scale(0.9660,1)" font-size="44.0" fill="#575757" stroke="#575757" stroke-width="0.2" stroke-linejoin="round" >300</text>
<text transform="translate(1340.38,1122.00) scale(0.9660,1)" font-size="44.0" fill="#575757" stroke="#575757" stroke-width="0.2" stroke-linejoin="round" >400</text>
<text transform="translate(1340.63,2340.00) scale(0.9660,1)" font-size="44.0" fill="#575757" stroke="#575757" stroke-width="0.2" stroke-linejoin="round" >400</text>
<text transform="translate(1561.70,1122.00) scale(0.9660,1)" font-size="44.0" fill="#575757" stroke="#575757" stroke-width="0.2" stroke-linejoin="round" >500</text>
<text transform="translate(1562.56,2340.00) scale(0.9660,1)" font-size="44.0" fill="#575757" stroke="#575757" stroke-width="0.2" stroke-linejoin="round" >500</text>
<text transform="translate(1783.14,1122.00) scale(0.9660,1)" font-size="44.0" fill="#575757" stroke="#575757" stroke-width="0.2" stroke-linejoin="round" >600</text>
<text transform="translate(1784.62,2340.00) scale(0.9660,1)" font-size="44.0" fill="#575757" stroke="#575757" stroke-width="0.2" stroke-linejoin="round" >600</text>
<text transform="translate(2004.81,1122.00) scale(0.9660,1)" font-size="44.0" fill="#575757" stroke="#575757" stroke-width="0.2" stroke-linejoin="round" >700</text>
<text transform="translate(2006.90,2340.00) scale(0.9660,1)" font-size="44.0" fill="#575757" stroke="#575757" stroke-width="0.2" stroke-linejoin="round" >700</text>
<text transform="translate(2226.65,1122.00) scale(0.9660,1)" font-size="44.0" fill="#575757" stroke="#575757" stroke-width="0.2" stroke-linejoin="round" >800</text>
<text transform="translate(2229.35,2340.00) scale(0.9660,1)" font-size="44.0" fill="#575757" stroke="#575757" stroke-width="0.2" stroke-linejoin="round" >800</text>
<text transform="translate(1269.75,1196.30) scale(0.9860,1)" font-size="50.2" fill="#575757" stroke="#575757" stroke-width="0.3" stroke-linejoin="round" >Size (nm)</text>
<text transform="translate(1268.75,2417.20) scale(0.9860,1)" font-size="50.2" fill="#575757" stroke="#575757" stroke-width="0.3" stroke-linejoin="round" >Size (nm)</text>
<text transform="translate(373.20,708.00) rotate(-90) translate(-4.76,0) scale(1.0270,1)" font-size="50.2" fill="#575757" stroke="#575757" stroke-width="0.3" stroke-linejoin="round" >Intensity (%)</text>
<text transform="translate(363.20,2244.00) rotate(-90) translate(-2.69,0) scale(1.0550,1)" font-size="50.2" fill="#575757" stroke="#575757" stroke-width="0.3" stroke-linejoin="round" >Concentration (particles/mL)</text>
<text transform="translate(363.40,1460.00) rotate(-90) translate(-3.79,0) scale(1.0900,1)" font-size="42.4" fill="#575757" stroke="#575757" stroke-width="0.2" stroke-linejoin="round" >Millions</text>
</g>
<g id="panel-letters" fill="#000" stroke="#000" stroke-linejoin="round">
<text transform="translate(41.79,163.00) scale(0.7150,1)" font-size="154.8" font-weight="bold" stroke-width="0">(</text>
<text transform="translate(92.02,165.60) scale(0.9020,1)" font-size="151.6" font-weight="normal" stroke-width="2.4">A</text>
<text transform="translate(191.39,163.00) scale(0.7150,1)" font-size="154.8" font-weight="bold" stroke-width="0">)</text>
<text transform="translate(66.20,1358.70) scale(0.7150,1)" font-size="154.4" font-weight="bold" stroke-width="0">(</text>
<text transform="translate(114.66,1361.50) scale(0.8460,1)" font-size="151.6" font-weight="normal" stroke-width="2.8">B</text>
<text transform="translate(209.79,1358.70) scale(0.7150,1)" font-size="154.4" font-weight="bold" stroke-width="0">)</text>
</g>
</g>
<defs><filter id="soft" x="0" y="0" width="2341" height="2463" filterUnits="userSpaceOnUse"><feGaussianBlur stdDeviation="0.8"/></filter></defs>
</svg></body></html>
